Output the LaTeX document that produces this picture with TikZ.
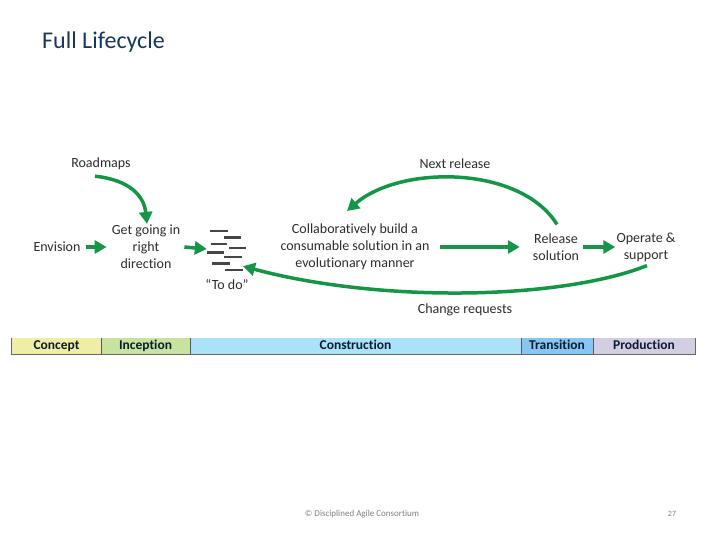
\documentclass[tikz,border=0pt]{standalone}
\usepackage{fontspec}
\setmainfont[Ligatures={NoCommon,NoContextual}]{Carlito}
\usetikzlibrary{arrows.meta}
\definecolor{agreen}{RGB}{20,150,70}
\definecolor{titleblue}{RGB}{23,55,94}
\definecolor{txtgray}{RGB}{45,45,45}
\definecolor{cconcept}{RGB}{240,238,165}
\definecolor{cinception}{RGB}{200,226,160}
\definecolor{cconstr}{RGB}{170,226,250}
\definecolor{ctrans}{RGB}{135,198,242}
\definecolor{cprod}{RGB}{212,206,226}
\definecolor{todogray}{RGB}{70,70,70}
\tikzset{
  txt/.style={font=\fontsize{14}{17}\selectfont, text=txtgray, align=center, inner sep=2pt},
  arr/.style={draw=agreen, line width=3.5pt, -{Triangle[length=12pt,width=13pt]}},
  phase/.style={draw=none, minimum height=16pt, inner sep=0pt, text height=9.5pt, text depth=3pt, font=\fontsize{13.5}{15}\selectfont\bfseries, text=titleblue!50!black},
  todoline/.style={draw=todogray, line width=2.2pt},
}
\begin{document}
\begin{tikzpicture}[x=1pt,y=-1pt]
\useasboundingbox (0,0) rectangle (720,540);
\fill[white] (0,0) rectangle (720,540);
% title
\node[anchor=west, inner sep=0pt, text=titleblue, font=\fontsize{24}{28}\selectfont] (title) at (42,42) {Full Lifecycle};
% nodes
\node[txt] (roadmaps) at (101,164) {Roadmaps};
\node[txt] (envision) at (57,247) {Envision};
\node[txt] (getgoing) at (146,247) {Get going in\\right\\direction};
\node[minimum width=40pt, minimum height=46pt, inner sep=0pt] (todo) at (227,249) {};
\node[txt] (todolabel) at (227,284) {“To do”};
\node[txt] (collab) at (355,247) {Collaboratively build a\\consumable solution in an\\evolutionary manner};
\node[txt] (release) at (556,247) {Release\\solution};
\node[txt] (operate) at (646,247) {Operate \&\\support};
\node[txt] (nextrel) at (455,164) {Next release};
\node[txt] (change) at (465,310) {Change requests};
% to-do icon
\draw[todoline] (210,230.7) -- (228,230.7);
\draw[todoline] (224,237.5) -- (241,237.5);
\draw[todoline] (210.5,243.8) -- (226.5,243.8);
\draw[todoline] (229,248.2) -- (245.5,248.2);
\draw[todoline] (207,252.5) -- (224,252.5);
\draw[todoline] (224,257.2) -- (242,257.2);
\draw[todoline] (212,263.5) -- (230,263.5);
\draw[todoline] (224.5,270) -- (242.5,270);
% connectors
\draw[arr] (envision.east) ++(3,0) -- ([xshift=-3pt]getgoing.west);
\draw[arr] ([xshift=2pt]getgoing.east) -- (todo.west);
\draw[arr] ([xshift=8pt]collab.east) -- ([xshift=-11pt]release.west);
\draw[arr] ([xshift=2pt]release.east) -- ([xshift=1pt]operate.west);
\draw[arr] ([xshift=-6pt,yshift=-4pt]roadmaps.south) .. controls (130,180) and (144,196) .. ([xshift=1pt,yshift=-1pt]getgoing.north);
\draw[arr] ([xshift=1pt,yshift=7pt]release.north) .. controls (520,165) and (400,165) .. (347,211);
\draw[arr] ([xshift=1pt,yshift=-2pt]operate.south) .. controls (560,300) and (380,303) .. ([xshift=16pt,yshift=6pt]todo.south);
% phase bar
\node[phase, fill=cconcept, minimum width=89pt] (concept) at (56.5,346) {Concept};
\node[phase, fill=cinception, minimum width=89pt] (inception) at (145.5,346) {Inception};
\node[phase, fill=cconstr, minimum width=331pt] (construction) at (355.5,346) {Construction};
\node[phase, fill=ctrans, minimum width=72pt] (transition) at (557,346) {Transition};
\node[phase, fill=cprod, minimum width=102pt] (production) at (644,346) {Production};
\draw[draw=gray!80!black, line width=0.8pt] (concept.north west) -- (concept.south west) -- (production.south east) -- (production.north east);
\foreach \n in {concept,inception,construction,transition}
  \draw[draw=gray!70!black, line width=0.6pt] (\n.north east) -- (\n.south east);
% footer
\node[text=gray, font=\fontsize{9}{11}\selectfont] (footer) at (362,514) {© Disciplined Agile Consortium};
\node[text=gray, font=\fontsize{8}{10}\selectfont] (pagenum) at (672,514) {27};
\end{tikzpicture}
\end{document}
